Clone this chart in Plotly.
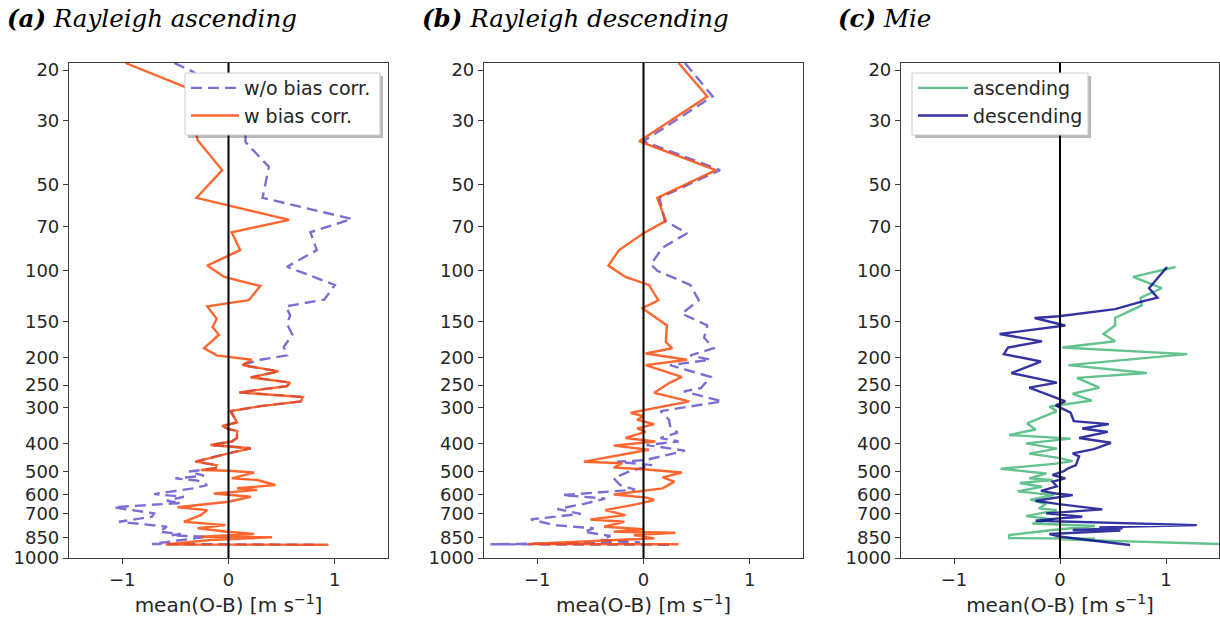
import math
import plotly.graph_objects as go

# ---------------- data ----------------
pressure_ticks = [20, 30, 50, 70, 100, 150, 200, 250, 300, 400, 500, 600, 700, 850, 1000]
x_ticks = [-1, 0, 1]
x_tick_text = ["\u22121", "0", "1"]

# (a) Rayleigh ascending, w bias corr.
a_w_p = [18.9, 23.0, 35.1, 44.6, 55.7, 66.5, 73.4, 84.7, 95.9, 105, 113, 126.6, 133, 147, 157, 167,
         186, 197, 204, 213, 224, 235, 245, 252, 265, 275, 285, 296, 308, 337, 347, 356, 361, 382,
         393, 404, 415, 432, 462, 475, 487, 494, 497, 504, 528, 535, 557, 572, 580, 596, 612, 637,
         666, 681, 709, 748, 768, 788, 810, 825, 843, 847, 866, 897, 899]
a_w_v = [-0.97, -0.40, -0.29, -0.06, -0.30, 0.57, 0.03, 0.11, -0.20, -0.04, 0.30, 0.19, -0.20, -0.11, -0.15, -0.09,
         -0.23, -0.11, 0.22, 0.13, 0.47, 0.21, 0.58, 0.55, 0.10, 0.70, 0.68, 0.30, 0.02, 0.08, -0.06, 0.00, 0.08, 0.08,
         0.03, -0.17, 0.21, 0.00, -0.31, -0.11, -0.12, -0.26, 0.00, 0.24, 0.03, 0.27, 0.44, 0.08, 0.27, -0.14, 0.21, 0.00,
         -0.48, -0.20, -0.26, -0.42, -0.03, -0.29, -0.01, 0.24, -0.26, 0.41, -0.17, -0.59, 0.94]

# (a) Rayleigh ascending, w/o bias corr.
a_wo_p = [18.9, 20.3, 33.8, 35.6, 43.5, 55.7, 66, 73.4, 84.7, 96.8, 112, 126, 133, 143, 153, 167, 184, 197,
          204, 213, 224, 235, 245, 252, 265, 275, 285, 296, 308, 337, 347, 356, 361, 382, 393, 404, 415,
          432, 462, 475, 487, 500, 517, 528, 538, 557, 572, 599, 612, 632, 643, 666, 699, 718, 748, 778,
          810, 825, 834, 843, 861, 894, 899]
a_wo_v = [-0.51, -0.33, 0.16, 0.16, 0.38, 0.32, 1.16, 0.77, 0.83, 0.55, 1.00, 0.90, 0.54, 0.58, 0.55, 0.60, 0.52, 0.55,
          0.30, 0.13, 0.47, 0.21, 0.58, 0.55, 0.10, 0.70, 0.68, 0.30, 0.02, 0.08, -0.06, 0.00, 0.08, 0.08, 0.03, -0.17, 0.21,
          0.00, -0.31, -0.11, -0.12, -0.37, -0.23, -0.50, -0.29, -0.20, -0.33, -0.70, -0.42, -0.58, -0.45, -1.08, -0.70, -0.72, -1.03, -0.58,
          -0.65, -0.45, -0.54, -0.20, -0.39, -0.72, 0.80]

# (b) Rayleigh descending, w bias corr.
b_w_p = [18.9, 24.7, 35.4, 44.6, 55.7, 67, 74, 84.7, 95.9, 105, 112, 126.6, 135, 155, 177, 186, 194, 204,
         213, 234, 245, 266, 285, 304, 312, 321, 330, 342, 354, 364, 382, 393, 406, 420, 462, 468, 484,
         491, 504, 524, 542, 572, 601, 616, 628, 649, 681, 709, 734, 748, 778, 794, 810, 817, 832, 854,
         894, 896]
b_w_v = [0.33, 0.60, -0.04, 0.68, 0.13, 0.21, 0.00, -0.23, -0.33, -0.17, 0.05, 0.14, -0.01, 0.22, 0.21, 0.27, 0.02, 0.41,
         0.02, 0.36, 0.25, 0.10, 0.43, 0.02, -0.12, 0.00, -0.06, 0.10, -0.06, 0.02, -0.17, 0.11, -0.28, 0.05, -0.56, -0.20, -0.28,
         0.00, 0.36, 0.18, 0.29, 0.18, -0.28, 0.03, 0.10, -0.06, -0.36, -0.17, -0.50, -0.18, -0.37, 0.00, -0.28, 0.30, -0.09, 0.10,
         -1.08, 0.33]

# (b) Rayleigh descending, w/o bias corr.
b_wo_p = [18.9, 24.7, 35.4, 44.6, 55.7, 67, 74, 83, 95, 100, 112, 126.6, 141, 155, 171, 186, 197, 204, 213,
          234, 256, 263, 285, 308, 330, 347, 366, 382, 393, 404, 423, 456, 462, 475, 502, 528, 557, 578,
          604, 621, 648, 675, 702, 734, 768, 788, 810, 838, 866, 882, 896, 899]
b_wo_v = [0.39, 0.65, 0.00, 0.72, 0.15, 0.20, 0.41, 0.18, 0.07, 0.13, 0.44, 0.52, 0.36, 0.60, 0.57, 0.66, 0.44, 0.63, 0.25,
          0.63, 0.54, 0.38, 0.74, 0.16, 0.24, 0.25, 0.32, 0.16, 0.33, 0.03, 0.39, 0.02, -0.25, 0.08, -0.15, -0.28, -0.22, -0.08,
          -0.76, -0.36, -0.56, -0.81, -0.59, -1.06, -0.84, -0.47, -0.56, -0.31, -0.40, -0.03, -1.44, 0.30]

# (c) Mie ascending
c_asc_p = [97, 105, 115, 124, 132, 146, 155, 166, 176, 185, 195, 213, 227, 236, 255, 268, 283, 297, 308, 323,
           340, 357, 373, 384, 399, 416, 433, 447, 460, 470, 489, 508, 528, 535, 548, 565, 586, 604, 626,
           649, 672, 681, 715, 734, 758, 774, 799, 832, 852, 857, 861, 910]
c_asc_v = [1.09, 0.69, 0.96, 0.76, 0.77, 0.52, 0.52, 0.41, 0.52, 0.02, 1.20, 0.08, 0.82, 0.16, 0.37, 0.12, 0.30, -0.10, -0.03, -0.17,
           -0.31, -0.23, -0.48, 0.10, -0.32, -0.03, -0.29, -0.03, 0.12, -0.06, -0.56, -0.13, -0.29, -0.07, -0.38, -0.17, -0.40, -0.06, -0.28,
           -0.13, -0.20, -0.03, -0.32, -0.07, -0.26, 0.33, -0.07, -0.48, -0.48, 0.33, 0.00, 2.20]

# (c) Mie descending
c_desc_p = [97, 115, 124, 128, 136, 144, 146, 153, 155, 166, 176, 185, 195, 207, 227, 245, 255, 279, 285, 294,
            312, 334, 342, 354, 364, 382, 397, 418, 432, 443, 475, 489, 498, 514, 528, 542, 563, 584, 596,
            604, 632, 649, 677, 699, 718, 728, 742, 768, 782, 788, 799, 803, 825, 843, 876, 887, 901]
c_desc_v = [1.01, 0.84, 0.92, 0.77, 0.52, -0.01, -0.24, -0.01, 0.05, -0.57, -0.17, -0.49, -0.53, -0.18, -0.46, -0.03, -0.29, -0.01, 0.05, -0.04,
            0.10, 0.13, 0.46, 0.21, 0.45, 0.18, 0.48, 0.32, 0.12, 0.18, 0.15, 0.07, 0.04, -0.07, 0.05, -0.07, -0.03, -0.18, -0.04,
            0.12, -0.23, -0.01, 0.40, -0.13, 0.21, -0.01, -0.23, 1.29, 0.37, 0.59, 0.12, 0.57, -0.10, 0.01, 0.41, 0.51, 0.66]

# ---------------- styling / layout ----------------
W, H = 1220, 619
ML, MR, MT, MB = 69, 1, 63, 61
PW = W - ML - MR
PH = H - MT - MB


def px_x(px):
    return (px - ML) / PW


def px_y(py):
    return (H - MB - py) / PH


col_wo = "rgba(106,90,205,0.88)"
col_w = "rgba(255,69,0,0.82)"
col_asc = "rgba(60,179,113,0.8)"
col_desc = "rgba(0,0,139,0.8)"
txt = "#262626"
FONT = "DejaVu Sans"

fig = go.Figure()

fig.add_trace(go.Scatter(x=a_wo_v, y=a_wo_p, mode="lines", name="w/o bias corr.",
                         line=dict(color=col_wo, width=2.4, dash="11px,6px"), xaxis="x", yaxis="y", legend="legend"))
fig.add_trace(go.Scatter(x=a_w_v, y=a_w_p, mode="lines", name="w bias corr.",
                         line=dict(color=col_w, width=2.4), xaxis="x", yaxis="y", legend="legend"))
fig.add_trace(go.Scatter(x=b_wo_v, y=b_wo_p, mode="lines", showlegend=False,
                         line=dict(color=col_wo, width=2.4, dash="11px,6px"), xaxis="x2", yaxis="y2"))
fig.add_trace(go.Scatter(x=b_w_v, y=b_w_p, mode="lines", showlegend=False,
                         line=dict(color=col_w, width=2.4), xaxis="x2", yaxis="y2"))
fig.add_trace(go.Scatter(x=c_asc_v, y=c_asc_p, mode="lines", name="ascending",
                         line=dict(color=col_asc, width=2.4), xaxis="x3", yaxis="y3", legend="legend2"))
fig.add_trace(go.Scatter(x=c_desc_v, y=c_desc_p, mode="lines", name="descending",
                         line=dict(color=col_desc, width=2.4), xaxis="x3", yaxis="y3", legend="legend2"))

domains = [(69, 388), (484, 803), (901, 1219)]
ylog_range = [math.log10(1000), math.log10(18.9)]
xlabels = ["mean(O-B) [m s<sup>\u22121</sup>]", "mea(O-B) [m s<sup>\u22121</sup>]", "mean(O-B) [m s<sup>\u22121</sup>]"]

axis_common = dict(showline=True, mirror=True, linecolor="#3c3c3c", linewidth=1.2,
                   ticks="outside", ticklen=5, tickwidth=1.2, tickcolor="#3c3c3c",
                   showgrid=False, zeroline=False, tickfont=dict(family=FONT, size=18, color=txt))

layout = dict(width=W, height=H, margin=dict(l=ML, r=MR, t=MT, b=MB),
              plot_bgcolor="white", paper_bgcolor="white", font=dict(family=FONT, color=txt))
for i, (x0, x1) in enumerate(domains):
    sfx = "" if i == 0 else str(i + 1)
    layout["xaxis" + sfx] = dict(domain=[px_x(x0), px_x(x1)], anchor="y" + sfx, range=[-1.5, 1.5],
                                 tickvals=x_ticks, ticktext=x_tick_text,
                                 title=dict(text=xlabels[i], font=dict(family=FONT, size=20, color=txt), standoff=9),
                                 **axis_common)
    layout["yaxis" + sfx] = dict(domain=[0, 1], anchor="x" + sfx, type="log", range=ylog_range,
                                 tickvals=pressure_ticks, ticktext=[str(t) for t in pressure_ticks],
                                 **axis_common)

# legend boxes (drawn as shapes, legends placed inside)
leg_boxes = [(185, 73, 380, 135), (912, 73, 1088, 135)]
layout["legend"] = dict(x=px_x(leg_boxes[0][0] + 1), y=px_y(69), xanchor="left", yanchor="top",
                        bgcolor="rgba(0,0,0,0)", borderwidth=0,
                        font=dict(family=FONT, size=19, color=txt), itemwidth=48, tracegroupgap=2)
layout["legend2"] = dict(x=px_x(leg_boxes[1][0] + 1), y=px_y(69), xanchor="left", yanchor="top",
                         bgcolor="rgba(0,0,0,0)", borderwidth=0,
                         font=dict(family=FONT, size=19, color=txt), itemwidth=50, tracegroupgap=2)

fig.update_layout(**layout)

shapes = []
for i in range(3):
    sfx = "" if i == 0 else str(i + 1)
    shapes.append(dict(type="line", xref="x" + sfx, yref="y" + sfx + " domain", x0=0, x1=0, y0=0, y1=1,
                       line=dict(color="black", width=2), layer="above"))
for (lx0, ly0, lx1, ly1) in leg_boxes:
    shapes.append(dict(type="rect", xref="paper", yref="paper", x0=px_x(lx0 + 3), x1=px_x(lx1 + 3),
                       y0=px_y(ly1 + 3), y1=px_y(ly0 + 3), fillcolor="rgba(0,0,0,0.28)", line=dict(width=0), layer="above"))
    shapes.append(dict(type="rect", xref="paper", yref="paper", x0=px_x(lx0), x1=px_x(lx1),
                       y0=px_y(ly1), y1=px_y(ly0), fillcolor="white", line=dict(color="#cccccc", width=1), layer="above"))
fig.update_layout(shapes=shapes)

titles = [("(a)", "Rayleigh ascending", 5), ("(b)", "Rayleigh descending", 420), ("(c)", "Mie", 836)]
for lab, name, xp in titles:
    fig.add_annotation(x=px_x(xp), y=px_y(18), xref="paper", yref="paper", xanchor="left", yanchor="middle",
                       showarrow=False, text="<b><i>" + lab + "</i></b> <i>" + name + "</i>",
                       font=dict(family="DejaVu Serif", size=24.5, color="black"))

fig.write_html("out.html")
